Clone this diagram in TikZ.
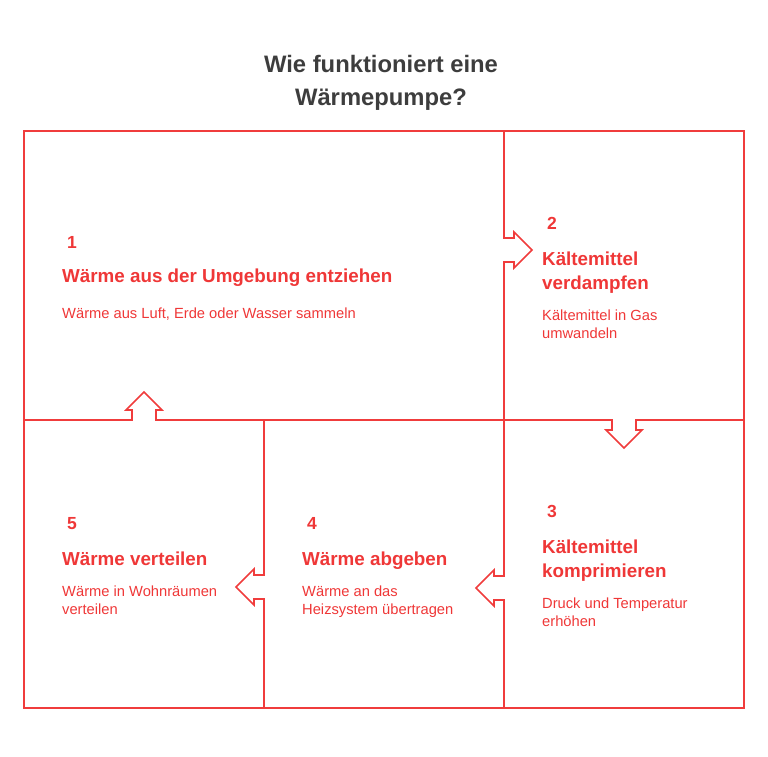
\documentclass[tikz,border=0pt]{standalone}
\usepackage{fontspec}
\setmainfont{Liberation Sans}
\definecolor{redline}{HTML}{F03C3C}
\definecolor{redtext}{HTML}{EF3737}
\definecolor{ink}{HTML}{3D3D3D}
\begin{document}
\begin{tikzpicture}[x=1pt,y=-1pt,
  frame/.style={draw=redline, line width=1.6pt},
  num/.style={anchor=base west, inner sep=0pt, text=redtext, font=\fontsize{17.5}{20}\selectfont\bfseries},
  headtxt/.style={anchor=base west, inner sep=0pt, text=redtext, align=left, font=\fontsize{18.8}{24}\selectfont\bfseries},
  desctxt/.style={anchor=base west, inner sep=0pt, text=redtext, align=left, font=\fontsize{14.7}{17.5}\selectfont},
  titletxt/.style={anchor=base, inner sep=0pt, text=ink, align=center, font=\fontsize{23.8}{33}\selectfont\bfseries}
]
\useasboundingbox (0,0) rectangle (768,756);

% title (base anchor = baseline of last line)
\node[titletxt] (title) at (381,105) {Wie funktioniert eine\\Wärmepumpe?};

% outer frame
\draw[frame] (24,131) rectangle (744,708);

% vertical divider x=504 with right arrow (1->2) and left arrow (3->4)
\draw[frame] (504,131) -- (504,238) -- ++(10,0) -- ++(0,-6) -- ++(18,18) -- ++(-18,18) -- ++(0,-6) -- ++(-10,0)
  -- (504,576) -- ++(-10,0) -- ++(0,-6) -- ++(-18,18) -- ++(18,18) -- ++(0,-6) -- ++(10,0) -- (504,708);

% horizontal divider y=420 with up arrow (5->1) and down arrow (2->3)
\draw[frame] (24,420) -- (132,420) -- ++(0,-10) -- ++(-6,0) -- ++(18,-18) -- ++(18,18) -- ++(-6,0) -- ++(0,10)
  -- (612,420) -- ++(0,10) -- ++(-6,0) -- ++(18,18) -- ++(18,-18) -- ++(-6,0) -- ++(0,-10) -- (744,420);

% vertical divider x=264 with left arrow (4->5)
\draw[frame] (264,420) -- (264,575) -- ++(-10,0) -- ++(0,-6) -- ++(-18,18) -- ++(18,18) -- ++(0,-6) -- ++(10,0) -- (264,708);

% box 1
\node[num] (n1) at (67,248) {1};
\node[headtxt] (h1) at (62,282) {Wärme aus der Umgebung entziehen};
\node[desctxt] (d1) at (62,318) {Wärme aus Luft, Erde oder Wasser sammeln};

% box 2
\node[num] (n2) at (547,229) {2};
\node[headtxt] (h2) at (542,289) {Kältemittel\\verdampfen};
\node[desctxt] (d2) at (542,338) {Kältemittel in Gas\\umwandeln};

% box 3
\node[num] (n3) at (547,517) {3};
\node[headtxt] (h3) at (542,577) {Kältemittel\\komprimieren};
\node[desctxt] (d3) at (542,626) {Druck und Temperatur\\erhöhen};

% box 4
\node[num] (n4) at (307,529) {4};
\node[headtxt] (h4) at (302,565) {Wärme abgeben};
\node[desctxt] (d4) at (302,614) {Wärme an das\\Heizsystem übertragen};

% box 5
\node[num] (n5) at (67,529) {5};
\node[headtxt] (h5) at (62,565) {Wärme verteilen};
\node[desctxt] (d5) at (62,614) {Wärme in Wohnräumen\\verteilen};
\end{tikzpicture}
\end{document}
